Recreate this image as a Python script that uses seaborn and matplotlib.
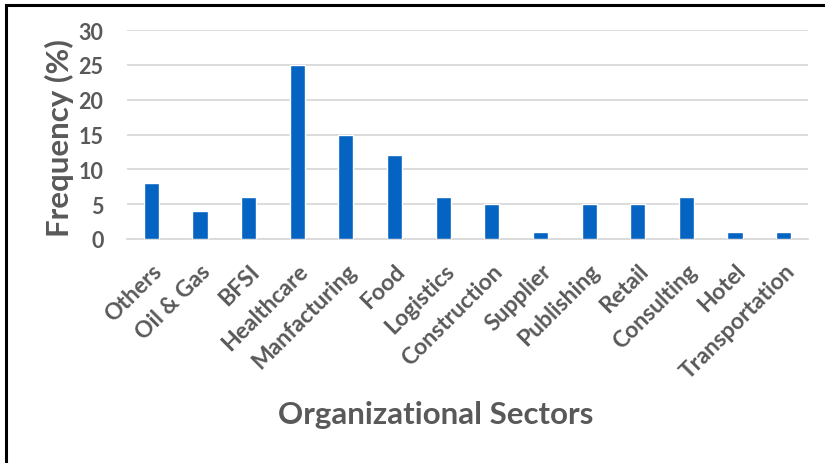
import matplotlib
matplotlib.use("Agg")
import matplotlib.pyplot as plt
import seaborn as sns
import pandas as pd
from matplotlib.patches import Rectangle

sectors = ["Others", "Oil & Gas", "BFSI", "Healthcare", "Manfacturing", "Food",
           "Logistics", "Construction", "Supplier", "Publishing", "Retail",
           "Consulting", "Hotel", "Transportation"]
frequency = [8, 4, 6, 25, 15, 12, 6, 5, 1, 5, 5, 6, 1, 1]
y_ticks = [0, 5, 10, 15, 20, 25, 30]

df = pd.DataFrame({"Sector": sectors, "Frequency": frequency})

sns.set_theme(style="white")
plt.rcParams["font.family"] = ["Lato", "DejaVu Sans"]

TEXT = "#595959"
BAR = "#0563C1"
WEIGHT = "bold"

W, H = 825, 464
PX0, PX1, PY0, PY1 = 127, 808, 240, 31
fig = plt.figure(figsize=(W / 100, H / 100), dpi=100)
ax = fig.add_axes([PX0 / W, 1 - PY0 / H, (PX1 - PX0) / W, (PY0 - PY1) / H])

sns.barplot(data=df, x="Sector", y="Frequency", color=BAR, width=0.31,
            saturation=1, ax=ax, zorder=3)

ax.set_ylim(0, 30)
ax.set_xlim(-0.5, len(sectors) - 0.5)
ax.set_yticks(y_ticks)
ax.yaxis.grid(True, color="#D9D9D9", linewidth=1.3, zorder=0)
ax.set_axisbelow(True)
for s in ["top", "right", "left"]:
    ax.spines[s].set_visible(False)
ax.spines["bottom"].set_color("#D9D9D9")
ax.spines["bottom"].set_linewidth(1.3)

ax.tick_params(axis="y", length=0, labelsize=15.5, labelcolor=TEXT, pad=17)
ax.tick_params(axis="x", length=0, labelsize=16.5, labelcolor=TEXT, pad=15)
for lbl in ax.get_yticklabels():
    lbl.set_fontweight(WEIGHT)
for lbl in ax.get_xticklabels():
    lbl.set_fontweight(WEIGHT)
    lbl.set_rotation(45)
    lbl.set_ha("right")
    lbl.set_rotation_mode("anchor")

pw, ph = PX1 - PX0, PY0 - PY1
ax.set_xlabel("Organizational Sectors", fontsize=22.5, fontweight=WEIGHT,
              color=TEXT, labelpad=0)
ax.xaxis.set_label_coords((436 - PX0) / pw, -(401 - PY0) / ph)
ax.set_ylabel("Frequency (%)", fontsize=22.5, fontweight=WEIGHT, color=TEXT)
ax.yaxis.set_label_coords(-(PX0 - 74) / pw, (PY0 - 138) / ph)

# outer frame (top and left edges visible)
fig.add_artist(Rectangle((6 / W, -0.1), 1.2, 1 - 6 / H + 0.1,
                         transform=fig.transFigure, fill=False,
                         edgecolor="black", linewidth=2.2))

fig.savefig("out.png", dpi=100)
